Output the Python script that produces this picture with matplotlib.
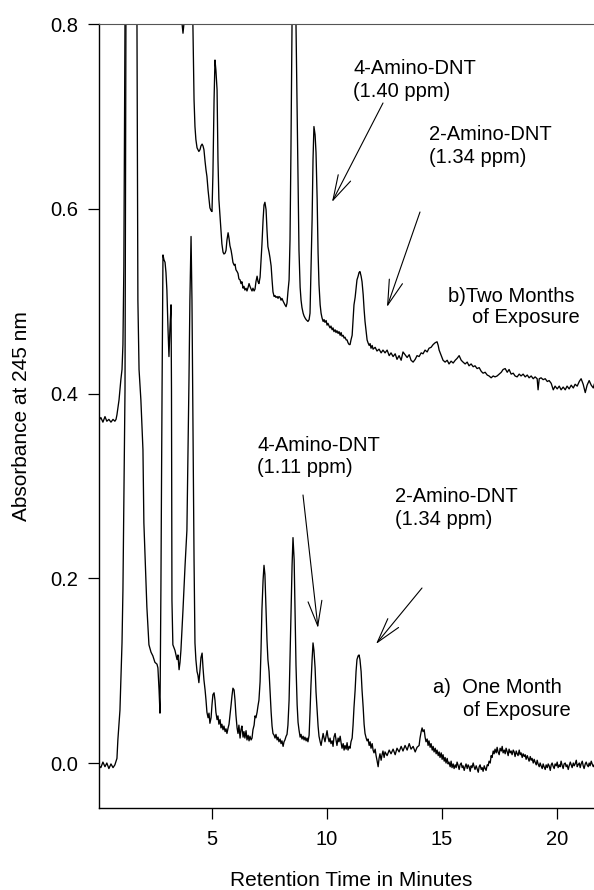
import matplotlib
matplotlib.use('Agg')
import matplotlib.pyplot as plt

# ---------------- data ----------------
# a) One month of exposure: retention time (min) and absorbance
time_a = [0.09, 0.17, 0.26, 0.35, 0.43, 0.52, 0.61, 0.70, 0.78, 0.87, 0.91, 1.00, 1.09, 1.13, 1.17, 1.22, 1.26,
          1.30, 1.50, 1.70,
          1.74, 1.78, 1.83, 1.91, 2.00, 2.04, 2.13, 2.17, 2.26, 2.35, 2.43, 2.52, 2.61, 2.65, 2.70, 2.74, 2.78,
          2.83, 2.87, 2.91, 2.96, 3.00, 3.04, 3.09, 3.13, 3.17, 3.22, 3.24, 3.26, 3.30, 3.39, 3.48, 3.52, 3.57,
          3.61, 3.65, 3.74, 3.83, 3.91, 3.96, 4.00, 4.04, 4.09, 4.13, 4.17, 4.22, 4.26, 4.30, 4.35, 4.39, 4.43,
          4.48, 4.52, 4.57, 4.61, 4.65, 4.70, 4.74, 4.78, 4.83, 4.87, 4.91, 4.96, 5.00, 5.04, 5.09, 5.13, 5.17,
          5.22, 5.26, 5.30, 5.35, 5.39, 5.43, 5.48, 5.52, 5.57, 5.61, 5.65, 5.70, 5.74, 5.78, 5.83, 5.87, 5.91,
          5.96, 6.00, 6.04, 6.09, 6.13, 6.17, 6.22, 6.26, 6.30, 6.35, 6.39, 6.43, 6.48, 6.52, 6.57, 6.61, 6.65,
          6.70, 6.74, 6.78, 6.83, 6.87, 6.91, 6.96, 7.00, 7.04, 7.09, 7.13, 7.17, 7.22, 7.26, 7.30, 7.35, 7.39,
          7.43, 7.48, 7.52, 7.57, 7.61, 7.65, 7.70, 7.74, 7.78, 7.83, 7.87, 7.91, 7.96, 8.00, 8.04, 8.09, 8.13,
          8.17, 8.22, 8.26, 8.30, 8.35, 8.39, 8.43, 8.48, 8.52, 8.57, 8.61, 8.65, 8.70, 8.74, 8.78, 8.83, 8.87,
          8.91, 8.96, 9.00, 9.04, 9.09, 9.13, 9.17, 9.22, 9.26, 9.30, 9.35, 9.39, 9.43, 9.48, 9.52, 9.57, 9.61,
          9.65, 9.70, 9.74, 9.78, 9.83, 9.87, 9.91, 9.96, 10.00, 10.04, 10.09, 10.13, 10.17, 10.22, 10.26,
          10.30, 10.35, 10.39, 10.43, 10.48, 10.52, 10.57, 10.61, 10.65, 10.70, 10.74, 10.78, 10.83, 10.87,
          10.91, 10.96, 11.00, 11.04, 11.09, 11.13, 11.17, 11.22, 11.26, 11.30, 11.35, 11.39, 11.43, 11.48,
          11.52, 11.57, 11.61, 11.65, 11.70, 11.74, 11.78, 11.83, 11.87, 11.91, 11.96, 12.00, 12.04, 12.09,
          12.13, 12.17, 12.22, 12.26, 12.30, 12.35, 12.39, 12.43, 12.48, 12.52, 12.61, 12.70, 12.78, 12.87,
          12.96, 13.04, 13.13, 13.22, 13.30, 13.39, 13.48, 13.57, 13.65, 13.74, 13.83, 13.91, 14.00, 14.04,
          14.09, 14.13, 14.17, 14.22, 14.26, 14.30, 14.35, 14.39, 14.43, 14.48, 14.52, 14.57, 14.61, 14.65,
          14.70, 14.74, 14.78, 14.83, 14.87, 14.91, 14.96, 15.00, 15.04, 15.09, 15.13, 15.17, 15.22, 15.26,
          15.30, 15.35, 15.39, 15.43, 15.48, 15.52, 15.57, 15.61, 15.65, 15.70, 15.74, 15.78, 15.83, 15.87,
          15.91, 15.96, 16.00, 16.04, 16.09, 16.13, 16.17, 16.22, 16.26, 16.30, 16.35, 16.39, 16.43, 16.48,
          16.52, 16.57, 16.61, 16.65, 16.70, 16.74, 16.78, 16.83, 16.87, 16.91, 16.96, 17.00, 17.04, 17.09,
          17.13, 17.17, 17.22, 17.26, 17.30, 17.35, 17.39, 17.43, 17.48, 17.52, 17.57, 17.61, 17.65, 17.70,
          17.74, 17.78, 17.83, 17.87, 17.91, 17.96, 18.00, 18.04, 18.09, 18.13, 18.17, 18.22, 18.26, 18.30,
          18.35, 18.39, 18.43, 18.48, 18.52, 18.57, 18.61, 18.65, 18.70, 18.74, 18.78, 18.83, 18.87, 18.91,
          18.96, 19.00, 19.04, 19.09, 19.13, 19.17, 19.22, 19.26, 19.30, 19.35, 19.39, 19.43, 19.48, 19.52,
          19.57, 19.61, 19.65, 19.70, 19.74, 19.78, 19.83, 19.87, 19.91, 19.96, 20.00, 20.04, 20.09, 20.13,
          20.17, 20.22, 20.26, 20.30, 20.35, 20.39, 20.43, 20.48, 20.52, 20.57, 20.61, 20.65, 20.70, 20.74,
          20.78, 20.83, 20.87, 20.91, 20.96, 21.00, 21.04, 21.09, 21.13, 21.17, 21.22, 21.26, 21.30, 21.35,
          21.39, 21.43, 21.48, 21.52, 21.57, 21.61]
abs_a = [-0.003, -0.005, 0.001, -0.004, 0.000, -0.006, -0.001, -0.005, -0.002, 0.005, 0.025, 0.057, 0.130, 0.187, 0.285, 0.404, 0.800,
         1.200, 1.600, 1.200,
         0.800, 0.501, 0.426, 0.393, 0.339, 0.260, 0.198, 0.169, 0.128, 0.120, 0.116, 0.109, 0.107, 0.103, 0.079, 0.054, 0.187,
         0.404, 0.550, 0.545, 0.542, 0.531, 0.512, 0.469, 0.440, 0.469, 0.496, 0.404, 0.176, 0.128, 0.122, 0.112, 0.117, 0.101,
         0.109, 0.122, 0.166, 0.214, 0.252, 0.339, 0.415, 0.501, 0.570, 0.501, 0.371, 0.220, 0.130, 0.112, 0.099, 0.095, 0.087,
         0.101, 0.114, 0.119, 0.103, 0.090, 0.079, 0.068, 0.055, 0.049, 0.054, 0.043, 0.049, 0.063, 0.074, 0.076, 0.068, 0.055,
         0.047, 0.051, 0.042, 0.047, 0.038, 0.042, 0.036, 0.040, 0.034, 0.037, 0.032, 0.038, 0.042, 0.051, 0.063, 0.073, 0.081,
         0.079, 0.068, 0.052, 0.038, 0.032, 0.041, 0.027, 0.036, 0.040, 0.028, 0.034, 0.027, 0.035, 0.025, 0.030, 0.024, 0.029,
         0.025, 0.027, 0.036, 0.041, 0.051, 0.049, 0.055, 0.062, 0.068, 0.088, 0.122, 0.166, 0.198, 0.214, 0.204, 0.166, 0.133,
         0.112, 0.099, 0.079, 0.055, 0.040, 0.032, 0.030, 0.027, 0.031, 0.025, 0.028, 0.023, 0.026, 0.021, 0.024, 0.018, 0.023,
         0.025, 0.029, 0.031, 0.041, 0.068, 0.112, 0.155, 0.214, 0.244, 0.220, 0.160, 0.106, 0.063, 0.044, 0.036, 0.028, 0.031,
         0.026, 0.029, 0.025, 0.028, 0.024, 0.027, 0.023, 0.030, 0.055, 0.084, 0.112, 0.130, 0.122, 0.103, 0.077, 0.057, 0.040,
         0.029, 0.023, 0.019, 0.025, 0.032, 0.027, 0.023, 0.030, 0.035, 0.028, 0.023, 0.027, 0.021, 0.024, 0.018,
         0.028, 0.032, 0.025, 0.019, 0.027, 0.023, 0.029, 0.022, 0.016, 0.021, 0.014, 0.019, 0.015, 0.022,
         0.014, 0.018, 0.016, 0.023, 0.027, 0.041, 0.060, 0.079, 0.099, 0.112, 0.116, 0.117, 0.112, 0.099,
         0.079, 0.060, 0.042, 0.032, 0.027, 0.024, 0.026, 0.019, 0.023, 0.016, 0.021, 0.014, 0.011, 0.015,
         0.008, 0.003, -0.004, 0.005, 0.010, 0.003, 0.009, 0.013, 0.006, 0.012, 0.008, 0.014, 0.010, 0.015,
         0.009, 0.016, 0.012, 0.018, 0.013, 0.019, 0.014, 0.021, 0.015, 0.018, 0.012, 0.017, 0.019, 0.027,
         0.034, 0.038, 0.034, 0.036, 0.028, 0.023, 0.026, 0.019, 0.024, 0.017, 0.021, 0.014, 0.018, 0.012,
         0.016, 0.010, 0.014, 0.008, 0.012, 0.006, 0.011, 0.004, 0.009, 0.002, 0.006, 0.000, 0.005, -0.001,
         0.001, -0.004, 0.002, -0.005, -0.001, -0.006, -0.002, -0.005, 0.001, -0.003, -0.007, -0.002, 0.000, -0.005,
         -0.003, -0.008, -0.004, -0.001, -0.006, -0.002, -0.004, -0.009, -0.003, -0.005, 0.000, -0.004, -0.007, -0.003,
         -0.006, -0.010, -0.004, -0.002, -0.007, -0.005, -0.009, -0.003, -0.006, -0.008, -0.002, -0.003, 0.002, 0.000,
         0.008, 0.006, 0.013, 0.010, 0.015, 0.011, 0.017, 0.012, 0.009, 0.016, 0.013, 0.018, 0.011, 0.014,
         0.010, 0.016, 0.012, 0.008, 0.015, 0.011, 0.013, 0.009, 0.014, 0.012, 0.007, 0.013, 0.010, 0.008,
         0.014, 0.009, 0.011, 0.006, 0.010, 0.007, 0.009, 0.004, 0.008, 0.005, 0.002, 0.007, 0.003, 0.005,
         0.000, 0.004, 0.001, -0.002, 0.003, -0.001, -0.004, 0.000, -0.003, -0.006, -0.001, -0.004, -0.007, -0.002,
         -0.005, -0.001, -0.003, -0.008, -0.002, 0.000, -0.004, -0.006, -0.001, -0.003, 0.001, -0.005, -0.002, -0.004,
         0.002, -0.003, -0.006, -0.001, 0.000, -0.004, -0.002, -0.007, -0.003, 0.001, -0.002, -0.005, 0.000, -0.003,
         -0.001, 0.003, -0.004, -0.002, 0.000, -0.005, -0.001, 0.002, -0.003, -0.006, -0.001, 0.001, -0.002, -0.004,
         0.000, -0.003, 0.002, -0.001, -0.004, -0.002]

# b) Two months of exposure: retention time (min) and absorbance
time_b = [0.09, 0.17, 0.26, 0.35, 0.43, 0.52, 0.61, 0.70, 0.78, 0.83, 0.87, 0.91, 0.96, 1.00, 1.04, 1.09, 1.13, 1.17, 1.22,
          1.30, 1.60, 2.50, 3.40, 3.70, 3.74, 3.78, 3.85, 4.00, 4.15,
          4.17, 4.22, 4.26, 4.30, 4.35, 4.39, 4.43, 4.48, 4.52, 4.57, 4.61, 4.65, 4.70, 4.74, 4.78, 4.83, 4.87,
          4.91, 4.96, 5.00, 5.04, 5.09, 5.13, 5.17, 5.22, 5.26, 5.30, 5.35, 5.39, 5.43, 5.48, 5.52, 5.57, 5.61,
          5.65, 5.70, 5.74, 5.78, 5.83, 5.87, 5.91, 5.96, 6.00, 6.04, 6.09, 6.13, 6.17, 6.22, 6.26, 6.30, 6.35,
          6.39, 6.43, 6.48, 6.52, 6.57, 6.61, 6.65, 6.70, 6.74, 6.78, 6.83, 6.87, 6.91, 6.96, 7.00, 7.04, 7.09,
          7.13, 7.17, 7.22, 7.26, 7.30, 7.35, 7.39, 7.43, 7.48, 7.52, 7.57, 7.61, 7.65, 7.70, 7.74, 7.78, 7.83,
          7.87, 7.91, 7.96, 8.00, 8.04, 8.09, 8.13, 8.17, 8.22, 8.26, 8.30, 8.35, 8.39, 8.43, 8.48,
          8.52, 8.56, 8.60,
          8.65, 8.70, 8.74, 8.78, 8.83, 8.87, 8.91, 8.96, 9.00, 9.04, 9.09, 9.13, 9.17, 9.22, 9.26, 9.30, 9.35,
          9.39, 9.43, 9.48, 9.52, 9.57, 9.61, 9.65, 9.70, 9.74, 9.78, 9.83, 9.87, 9.91, 9.96, 10.00, 10.04,
          10.09, 10.13, 10.17, 10.22, 10.26, 10.30, 10.35, 10.39, 10.43, 10.48, 10.52, 10.57, 10.61, 10.65,
          10.70, 10.74, 10.78, 10.83, 10.87, 10.91, 10.96, 11.00, 11.04, 11.09, 11.13, 11.17, 11.22, 11.26,
          11.30, 11.35, 11.39, 11.43, 11.48, 11.52, 11.57, 11.61, 11.65, 11.70, 11.74, 11.78, 11.83, 11.87,
          11.91, 11.96, 12.00, 12.09, 12.17, 12.26, 12.35, 12.43, 12.52, 12.61, 12.70, 12.78, 12.87, 12.96,
          13.04, 13.13, 13.22, 13.30, 13.39, 13.48, 13.57, 13.65, 13.74, 13.83, 13.91, 14.00, 14.09, 14.17,
          14.26, 14.35, 14.43, 14.52, 14.61, 14.70, 14.78, 14.83, 14.87, 14.96, 15.04, 15.13, 15.22, 15.30,
          15.39, 15.48, 15.57, 15.65, 15.74, 15.83, 15.91, 16.00, 16.09, 16.17, 16.26, 16.35, 16.43, 16.52,
          16.61, 16.70, 16.78, 16.87, 16.96, 17.04, 17.13, 17.22, 17.30, 17.39, 17.48, 17.57, 17.65, 17.74,
          17.83, 17.91, 18.00, 18.09, 18.17, 18.26, 18.35, 18.43, 18.52, 18.61, 18.70, 18.78, 18.87, 18.96,
          19.04, 19.13, 19.17, 19.22, 19.30, 19.39, 19.48, 19.57, 19.65, 19.74, 19.83, 19.91, 20.00, 20.09,
          20.17, 20.26, 20.35, 20.43, 20.52, 20.61, 20.70, 20.78, 20.87, 20.96, 21.04, 21.13, 21.22, 21.30,
          21.39, 21.48, 21.57, 21.61]
abs_b = [0.371, 0.374, 0.369, 0.375, 0.370, 0.372, 0.369, 0.372, 0.370, 0.372, 0.377, 0.384, 0.393, 0.404, 0.415, 0.426, 0.453, 0.537, 0.800,
         1.300, 1.800, 1.600, 1.000, 0.800, 0.790, 0.800, 1.000, 1.200, 1.000,
         0.800, 0.718, 0.689, 0.675, 0.666, 0.664, 0.662, 0.664, 0.668, 0.670, 0.668, 0.664, 0.651, 0.642, 0.635, 0.620, 0.610,
         0.601, 0.598, 0.597, 0.637, 0.718, 0.761, 0.750, 0.729, 0.653, 0.610, 0.591, 0.575, 0.562, 0.553, 0.551, 0.552, 0.555,
         0.566, 0.574, 0.568, 0.560, 0.555, 0.549, 0.542, 0.539, 0.540, 0.534, 0.532, 0.530, 0.524, 0.523, 0.519, 0.521, 0.514,
         0.516, 0.512, 0.514, 0.511, 0.515, 0.519, 0.516, 0.513, 0.511, 0.514, 0.511, 0.513, 0.521, 0.527, 0.521, 0.519, 0.526,
         0.543, 0.561, 0.588, 0.604, 0.607, 0.599, 0.577, 0.559, 0.553, 0.547, 0.538, 0.523, 0.510, 0.505, 0.506, 0.504, 0.505,
         0.503, 0.505, 0.504, 0.501, 0.503, 0.500, 0.498, 0.496, 0.494, 0.498, 0.510, 0.523, 0.566, 0.661, 0.800,
         0.950, 1.000, 0.950,
         0.800, 0.707, 0.624, 0.555, 0.515, 0.501, 0.493, 0.487, 0.484, 0.482, 0.480, 0.479, 0.478, 0.480, 0.487, 0.534, 0.588,
         0.653, 0.689, 0.680, 0.661, 0.610, 0.552, 0.518, 0.496, 0.487, 0.482, 0.478, 0.480, 0.477, 0.479, 0.474, 0.476,
         0.473, 0.471, 0.473, 0.469, 0.471, 0.467, 0.469, 0.466, 0.468, 0.465, 0.467, 0.463, 0.466, 0.462,
         0.463, 0.460, 0.461, 0.458, 0.458, 0.455, 0.453, 0.453, 0.458, 0.463, 0.480, 0.496, 0.504, 0.514,
         0.523, 0.527, 0.531, 0.532, 0.527, 0.521, 0.507, 0.491, 0.478, 0.467, 0.458, 0.455, 0.452, 0.454,
         0.449, 0.452, 0.448, 0.450, 0.446, 0.448, 0.444, 0.447, 0.444, 0.447, 0.441, 0.444, 0.440, 0.443,
         0.437, 0.441, 0.436, 0.445, 0.442, 0.439, 0.442, 0.436, 0.434, 0.437, 0.441, 0.440, 0.444, 0.443,
         0.447, 0.445, 0.449, 0.450, 0.453, 0.455, 0.456, 0.452, 0.447, 0.441, 0.436, 0.434, 0.436, 0.432,
         0.435, 0.433, 0.436, 0.438, 0.441, 0.436, 0.434, 0.432, 0.434, 0.430, 0.432, 0.429, 0.430, 0.427,
         0.428, 0.424, 0.422, 0.423, 0.420, 0.419, 0.417, 0.419, 0.418, 0.419, 0.421, 0.423, 0.426, 0.427,
         0.423, 0.426, 0.421, 0.422, 0.419, 0.418, 0.421, 0.419, 0.421, 0.418, 0.420, 0.417, 0.419, 0.416,
         0.418, 0.416, 0.404, 0.416, 0.417, 0.415, 0.416, 0.413, 0.414, 0.411, 0.404, 0.408, 0.405, 0.408,
         0.404, 0.407, 0.404, 0.408, 0.405, 0.409, 0.406, 0.410, 0.408, 0.413, 0.416, 0.410, 0.401, 0.409,
         0.414, 0.409, 0.406, 0.410]

x_ticks = [5, 10, 15, 20]
y_ticks = [0.0, 0.2, 0.4, 0.6, 0.8]
y_tick_labels = ['0.0', '0.2', '0.4', '0.6', '0.8']
x_label = 'Retention Time in Minutes'
y_label = 'Absorbance at 245 nm'

# ---------------- figure ----------------
plt.rcParams['font.family'] = ['Liberation Sans', 'DejaVu Sans']
W, H = 594, 890
fig = plt.figure(figsize=(W / 100, H / 100), dpi=100)
fig.patch.set_facecolor('white')


def fx(x):
    return x / W


def fy(y):
    return 1 - y / H


ax = fig.add_axes([fx(99), fy(808), (594 - 99) / W, (808 - 24) / H])
ax.plot(time_a, abs_a, color='black', lw=0.95)
ax.plot(time_b, abs_b, color='black', lw=0.95)
ax.set_xlim(0.09, 21.6)
ax.set_ylim(-0.0487, 0.8)
ax.set_xticks(x_ticks)
ax.set_yticks(y_ticks)
ax.set_yticklabels(y_tick_labels)
ax.spines['right'].set_visible(False)
ax.spines['top'].set_linewidth(0.8)
ax.spines['top'].set_color('#555555')
for s in ('left', 'bottom'):
    ax.spines[s].set_linewidth(1.0)
ax.tick_params(axis='both', direction='out', length=8, width=0.9, labelsize=14.5)
ax.tick_params(axis='y', pad=7)
ax.tick_params(axis='x', pad=8)

fig.text(fx(351), fy(880), x_label, fontsize=15, ha='center', va='center')
fig.text(fx(22), fy(416), y_label, fontsize=15, ha='center', va='center', rotation=90)

# ---------------- annotations ----------------
ANN = 14.5


def label(x, y, s, ha='left'):
    fig.text(fx(x), fy(y), s, fontsize=ANN, ha=ha, va='baseline')


def arrow(tail, tip):
    ax.annotate('', xy=(fx(tip[0]), fy(tip[1])), xycoords='figure fraction',
                xytext=(fx(tail[0]), fy(tail[1])), textcoords='figure fraction',
                arrowprops=dict(arrowstyle='->,head_length=1.8,head_width=0.5', lw=0.8,
                                color='black', mutation_scale=10, shrinkA=0, shrinkB=0))


label(353, 74, '4-Amino-DNT')
label(353, 97, '(1.40 ppm)')
label(429, 140, '2-Amino-DNT')
label(429, 163, '(1.34 ppm)')
label(448, 302, 'b)Two Months')
label(472, 323, 'of Exposure')
arrow((383, 103), (332, 202))
arrow((420, 212), (387, 307))

label(257, 451, '4-Amino-DNT')
label(257, 473, '(1.11 ppm)')
label(395, 502, '2-Amino-DNT')
label(395, 525, '(1.34 ppm)')
label(433, 693, 'a)  One Month')
label(463, 716, 'of Exposure')
arrow((303, 495), (318, 628))
arrow((422, 588), (376, 644))

fig.savefig('out.png', dpi=100)
